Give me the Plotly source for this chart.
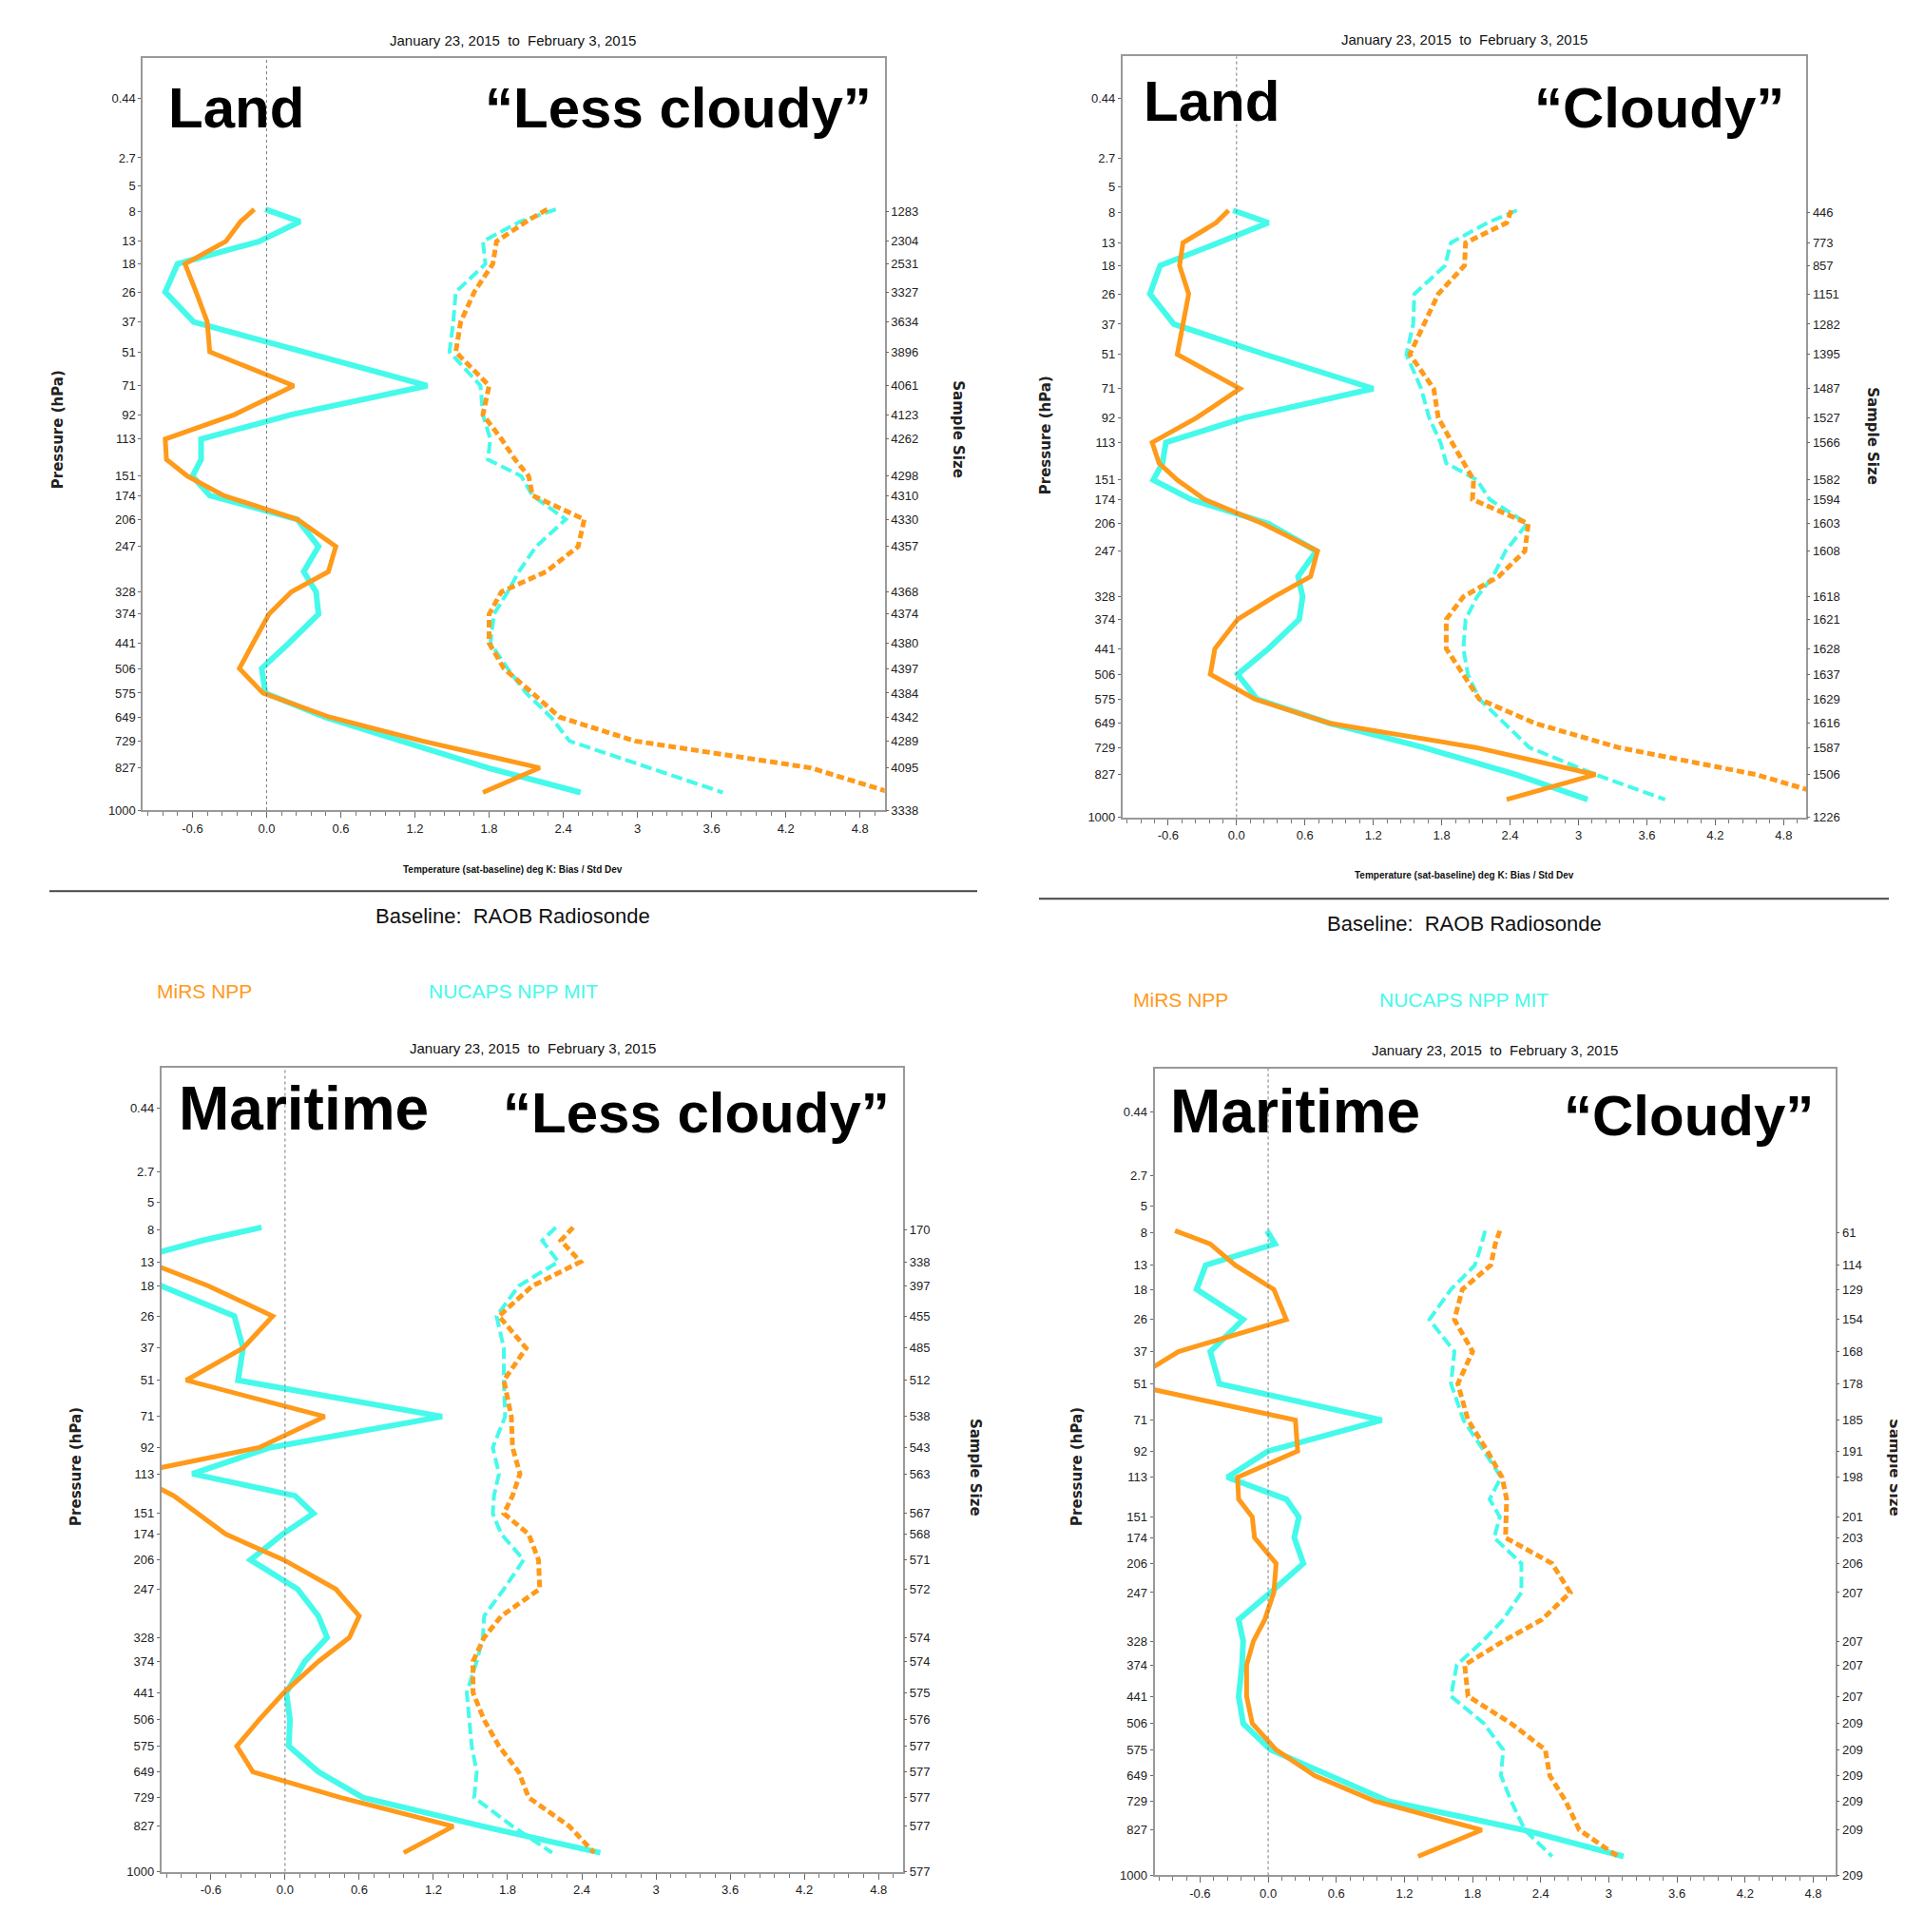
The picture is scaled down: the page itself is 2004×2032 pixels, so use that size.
import numpy as np
import plotly.graph_objects as go

W, H = 2004, 2032
OFF = 8                      # default body margin of the html page
FW, FH = W - OFF, H - OFF    # figure size so that it fills the window exactly
KAPPA = 0.286

# ---------------- data ----------------
levels = [7.7, 9.5, 13, 18, 26, 37, 51, 71, 92, 113, 133, 151, 174, 206, 247,
          290, 328, 374, 441, 506, 575, 649, 729, 827, 925]

left_tick_levels = [0.44, 2.7, 5, 8, 13, 18, 26, 37, 51, 71, 92, 113, 151, 174,
                    206, 247, 328, 374, 441, 506, 575, 649, 729, 827, 1000]
left_tick_text = ["0.44", "2.7", "5", "8", "13", "18", "26", "37", "51", "71", "92",
                  "113", "151", "174", "206", "247", "328", "374", "441", "506",
                  "575", "649", "729", "827", "1000"]
right_tick_levels = [8, 13, 18, 26, 37, 51, 71, 92, 113, 151, 174, 206, 247, 328,
                     374, 441, 506, 575, 649, 729, 827, 1000]

x_tick_vals = [-0.6, 0.0, 0.6, 1.2, 1.8, 2.4, 3.0, 3.6, 4.2, 4.8]
x_tick_text = ["-0.6", "0.0", "0.6", "1.2", "1.8", "2.4", "3", "3.6", "4.2", "4.8"]

# Land, less cloudy
land_clear_samples = [1283, 2304, 2531, 3327, 3634, 3896, 4061, 4123, 4262, 4298, 4310,
                      4330, 4357, 4368, 4374, 4380, 4397, 4384, 4342, 4289, 4095, 3338]
land_clear_mirs_bias = [-0.10, -0.21, -0.33, -0.66, -0.57, -0.48, -0.46, 0.22, -0.26, -0.82,
                        -0.81, -0.64, -0.35, 0.25, 0.56, 0.50, 0.20, 0.02, -0.11, -0.22,
                        -0.03, 0.51, 1.26, 2.21, 1.75]
land_clear_nucaps_bias = [-0.01, 0.27, -0.06, -0.72, -0.82, -0.59, 0.30, 1.30, 0.20, -0.53,
                          -0.53, -0.60, -0.46, 0.25, 0.42, 0.30, 0.40, 0.42, 0.18, -0.04,
                          -0.01, 0.47, 1.09, 1.79, 2.54]
land_clear_mirs_std = [2.27, 2.10, 1.86, 1.83, 1.68, 1.57, 1.53, 1.80, 1.75, 1.90,
                       2.01, 2.12, 2.15, 2.57, 2.52, 2.26, 1.90, 1.80, 1.80, 1.92,
                       2.15, 2.37, 2.98, 4.40, 5.05]
land_clear_nucaps_std = [2.34, 2.05, 1.75, 1.77, 1.53, 1.51, 1.48, 1.73, 1.75, 1.81,
                         1.79, 2.06, 2.15, 2.42, 2.18, 2.04, 1.95, 1.84, 1.81, 1.95,
                         2.10, 2.30, 2.45, 3.10, 3.69]

# Land, cloudy
land_cloudy_samples = [446, 773, 857, 1151, 1282, 1395, 1487, 1527, 1566, 1582, 1594,
                       1603, 1608, 1618, 1621, 1628, 1637, 1629, 1616, 1587, 1506, 1226]
land_cloudy_mirs_bias = [-0.07, -0.18, -0.47, -0.50, -0.42, -0.47, -0.52, 0.03, -0.35, -0.74,
                         -0.68, -0.52, -0.28, 0.23, 0.71, 0.65, 0.33, 0.01, -0.19, -0.23,
                         0.16, 0.82, 2.10, 3.15, 2.37]
land_cloudy_nucaps_bias = [-0.03, 0.28, -0.16, -0.67, -0.76, -0.55, 0.25, 1.20, 0.07, -0.62,
                           -0.65, -0.73, -0.40, 0.28, 0.70, 0.54, 0.58, 0.55, 0.28, 0.01,
                           0.18, 0.82, 1.64, 2.45, 3.08]
land_cloudy_mirs_std = [2.41, 2.37, 2.01, 2.00, 1.77, 1.64, 1.52, 1.73, 1.77, 1.89,
                        1.99, 2.08, 2.07, 2.56, 2.53, 2.30, 1.99, 1.84, 1.84, 1.99,
                        2.13, 2.62, 3.35, 4.56, 5.30]
land_cloudy_nucaps_std = [2.46, 2.20, 1.88, 1.83, 1.56, 1.55, 1.49, 1.62, 1.69, 1.79,
                          1.84, 2.11, 2.22, 2.55, 2.36, 2.25, 2.11, 2.01, 1.99, 2.03,
                          2.13, 2.35, 2.57, 3.15, 3.76]

# Maritime, less cloudy
sea_clear_samples = [170, 338, 397, 455, 485, 512, 538, 543, 563, 567, 568,
                     571, 572, 574, 574, 575, 576, 577, 577, 577, 577, 577]
sea_clear_mirs_bias = [-1.80, -1.50, -1.12, -0.62, -0.10, -0.34, -0.80, 0.32, -0.21, -1.25,
                       -0.90, -0.70, -0.48, -0.01, 0.41, 0.60, 0.52, 0.27, -0.01, -0.21,
                       -0.39, -0.26, 0.45, 1.36, 0.96]
sea_clear_nucaps_bias = [-0.19, -0.67, -1.30, -1.00, -0.41, -0.34, -0.38, 1.27, -0.12, -0.75,
                         0.08, 0.23, -0.02, -0.28, 0.10, 0.27, 0.34, 0.16, 0.01, 0.04,
                         0.03, 0.27, 0.63, 1.60, 2.55]
sea_clear_mirs_std = [2.33, 2.23, 2.39, 2.00, 1.73, 1.95, 1.77, 1.83, 1.84, 1.90,
                      1.84, 1.77, 1.97, 2.05, 2.06, 1.75, 1.61, 1.52, 1.52, 1.61,
                      1.73, 1.89, 1.97, 2.30, 2.50]
sea_clear_nucaps_std = [2.19, 2.08, 2.21, 1.89, 1.71, 1.77, 1.77, 1.78, 1.68, 1.73,
                        1.69, 1.68, 1.75, 1.93, 1.77, 1.61, 1.60, 1.55, 1.47, 1.49,
                        1.51, 1.55, 1.53, 1.84, 2.16]

# Maritime, cloudy
sea_cloudy_samples = [61, 114, 129, 154, 168, 178, 185, 191, 198, 201, 203,
                      206, 207, 207, 207, 207, 209, 209, 209, 209, 209, 209]
sea_cloudy_mirs_bias = [-0.82, -0.51, -0.29, 0.05, 0.16, -0.79, -1.25, 0.24, 0.26, -0.27,
                        -0.26, -0.14, -0.12, 0.07, 0.05, -0.03, -0.13, -0.19, -0.19, -0.14,
                        0.07, 0.41, 0.94, 1.88, 1.32]
sea_cloudy_nucaps_bias = [-0.01, 0.06, -0.55, -0.63, -0.22, -0.51, -0.43, 1.00, 0.00, -0.36,
                          0.16, 0.27, 0.23, 0.31, 0.02, -0.26, -0.22, -0.23, -0.26, -0.22,
                          0.02, 0.55, 1.06, 2.25, 3.13]
sea_cloudy_mirs_std = [2.04, 2.00, 1.96, 1.71, 1.64, 1.80, 1.67, 1.76, 1.93, 2.06,
                       2.10, 2.10, 2.09, 2.50, 2.66, 2.41, 2.07, 1.73, 1.76, 2.14,
                       2.44, 2.48, 2.62, 2.74, 3.08]
sea_cloudy_nucaps_std = [1.91, 1.88, 1.82, 1.61, 1.42, 1.64, 1.61, 1.72, 1.90, 2.05,
                         1.95, 2.04, 1.99, 2.23, 2.23, 2.07, 1.89, 1.66, 1.61, 1.90,
                         2.07, 2.05, 2.14, 2.26, 2.50]

surface_labels = ["Land", "Land", "Maritime", "Maritime"]
sky_labels = ["\u201cLess cloudy\u201d", "\u201cCloudy\u201d", "\u201cLess cloudy\u201d", "\u201cCloudy\u201d"]
date_title = "January 23, 2015  to  February 3, 2015"
x_title = "Temperature (sat-baseline) deg K: Bias / Std Dev"
baseline_text = "Baseline:  RAOB Radiosonde"
legend_names = ["MiRS NPP", "NUCAPS NPP MIT"]

# ---------------- style ----------------
ORANGE = "#FF9A1A"
CYAN = "#45FAEA"
NARROW = "Liberation Sans Narrow, Arial Narrow, Liberation Sans, Arial, sans-serif"
BOLD = "Liberation Sans, Arial, sans-serif"


def tp(p):
    return np.power(np.asarray(p, dtype=float), KAPPA)


def fx(x):
    return (x - OFF) / FW


def fy(y):
    return 1 - (y - OFF) / FH


# panel boxes in window pixels: left, right, top, bottom ; top value of transformed axis
panels = [
    dict(box=(150.4, 930.7, 60.9, 855.4), ttop=0.426, samples=land_clear_samples,
         series=(land_clear_mirs_bias, land_clear_nucaps_bias, land_clear_mirs_std, land_clear_nucaps_std),
         title_xy=(539, 43), surf_xy=(248, 114), sky_xy=(713, 114), surf_size=60,
         press_xy=(61, 454), samp_xy=(1008, 454), xtitle_xy=(539, 918)),
    dict(box=(1180.9, 1900.3, 59.6, 863.0), ttop=0.419, samples=land_cloudy_samples,
         series=(land_cloudy_mirs_bias, land_cloudy_nucaps_bias, land_cloudy_mirs_std, land_cloudy_nucaps_std),
         title_xy=(1540, 42), surf_xy=(1274, 107), sky_xy=(1745, 114), surf_size=60,
         press_xy=(1100, 460), samp_xy=(1970, 460), xtitle_xy=(1540, 924)),
    dict(box=(169.8, 950.2, 1127.5, 1976.3), ttop=0.451, samples=sea_clear_samples,
         series=(sea_clear_mirs_bias, sea_clear_nucaps_bias, sea_clear_mirs_std, sea_clear_nucaps_std),
         title_xy=(560, 1107), surf_xy=(319, 1171), sky_xy=(732, 1175), surf_size=64,
         press_xy=(80, 1549), samp_xy=(1026, 1549), xtitle_xy=None),
    dict(box=(1214.6, 1931.4, 1128.5, 1980.2), ttop=0.431, samples=sea_cloudy_samples,
         series=(sea_cloudy_mirs_bias, sea_cloudy_nucaps_bias, sea_cloudy_mirs_std, sea_cloudy_nucaps_std),
         title_xy=(1572, 1109), surf_xy=(1362, 1174), sky_xy=(1776, 1178), surf_size=64,
         press_xy=(1133, 1549), samp_xy=(1993, 1549), xtitle_xy=None),
]

fig = go.Figure()
layout = dict(width=FW, height=FH, margin=dict(l=0, r=0, t=0, b=0, pad=0),
              paper_bgcolor="white", plot_bgcolor="white", showlegend=False)
annotations = []
shapes = []

ylev = tp(levels)
tbot = float(tp(1000))
TICKFONT = dict(family=NARROW, size=13, color="#222")


def ann(text, x, y, font, **kw):
    d = dict(text=text, x=fx(x), y=fy(y), xref="paper", yref="paper", showarrow=False,
             xanchor="center", yanchor="middle", font=font)
    d.update(kw)
    annotations.append(d)


for i, pn in enumerate(panels, start=1):
    L, R, T, B = pn["box"]
    xa = "x" if i == 1 else f"x{i}"
    ya = "y" if i == 1 else f"y{i}"
    yr = f"y{i + 4}"
    mb, nb, ms, ns = pn["series"]

    style = [
        (nb, CYAN, 6, "solid"),
        (ns, CYAN, 4, "12px,5px"),
        (mb, ORANGE, 5, "solid"),
        (ms, ORANGE, 5, "8px,4px"),
    ]
    for vals, col, wdt, dash in style:
        fig.add_trace(go.Scatter(x=vals, y=ylev, mode="lines", xaxis=xa, yaxis=ya,
                                 line=dict(color=col, width=wdt, dash=dash),
                                 hoverinfo="skip"))
    fig.add_trace(go.Scatter(x=[None], y=[None], xaxis=xa, yaxis=yr, mode="lines",
                             hoverinfo="skip"))

    xkey = "xaxis" if i == 1 else f"xaxis{i}"
    ykey = "yaxis" if i == 1 else f"yaxis{i}"
    yrkey = f"yaxis{i + 4}"

    layout[xkey] = dict(domain=[fx(L), fx(R)], anchor=ya, range=[-1, 5],
                        tickmode="array", tickvals=x_tick_vals, ticktext=x_tick_text,
                        ticks="outside", ticklen=6, tickcolor="#666", tickwidth=1,
                        minor=dict(tickmode="linear", tick0=0, dtick=0.12, ticks="outside",
                                   ticklen=4, tickcolor="#777", showgrid=False),
                        showline=True, linecolor="#999", linewidth=2, mirror=True,
                        showgrid=False, zeroline=False, tickfont=TICKFONT)
    layout[ykey] = dict(domain=[fy(B), fy(T)], anchor=xa, range=[tbot, pn["ttop"]],
                        tickmode="array", tickvals=list(tp(left_tick_levels)),
                        ticktext=left_tick_text, ticks="outside", ticklen=3,
                        tickcolor="#666", showline=True, linecolor="#999", linewidth=2,
                        mirror=True, showgrid=False, zeroline=False, tickfont=TICKFONT)
    layout[yrkey] = dict(overlaying=ya, anchor=xa, side="right", range=[tbot, pn["ttop"]],
                         tickmode="array", tickvals=list(tp(right_tick_levels)),
                         ticktext=[str(s) for s in pn["samples"]], ticks="outside",
                         ticklen=3, tickcolor="#666", showline=False, showgrid=False,
                         zeroline=False, tickfont=TICKFONT)

    # zero reference line
    shapes.append(dict(type="line", xref=xa, yref=f"{ya} domain", x0=0, x1=0, y0=0, y1=1,
                       line=dict(color="#777", width=1, dash="dot")))

    ann(date_title, *pn["title_xy"], font=dict(family=NARROW, size=15, color="#111"))
    ann(f"<b>{surface_labels[i - 1]}</b>", *pn["surf_xy"],
        font=dict(family=BOLD, size=pn["surf_size"], color="black"))
    ann(f"<b>{sky_labels[i - 1]}</b>", *pn["sky_xy"],
        font=dict(family=BOLD, size=60, color="black"))
    ann("<b>Pressure (hPa)</b>", *pn["press_xy"], textangle=-90,
        font=dict(family="DejaVu Sans", size=15, color="#222"))
    ann("<b>Sample Size</b>", *pn["samp_xy"], textangle=90,
        font=dict(family="DejaVu Sans", size=15, color="#222"))
    if pn["xtitle_xy"] is not None:
        ann(f"<b>{x_title}</b>", *pn["xtitle_xy"],
            font=dict(family=NARROW, size=10, color="#111"))

# separators, baseline text, legend text (top row only)
for (x0, x1, yl, cx, yb, mx, nx, ylg) in [(52, 1028, 941, 539, 967, 215, 540, 1047),
                                          (1093, 1987, 949, 1540, 975, 1242, 1540, 1056)]:
    shapes.append(dict(type="line", xref="paper", yref="paper", x0=fx(x0), x1=fx(x1),
                       y0=fy(yl), y1=fy(yl), line=dict(color="#444", width=2)))
    ann(baseline_text, cx, yb, font=dict(family=NARROW, size=22, color="#111"))
    ann(legend_names[0], mx, ylg, font=dict(family=NARROW, size=21, color=ORANGE))
    ann(legend_names[1], nx, ylg, font=dict(family=NARROW, size=21, color=CYAN))

layout["annotations"] = annotations
layout["shapes"] = shapes
fig.update_layout(**layout)
fig.write_html("out.html")
